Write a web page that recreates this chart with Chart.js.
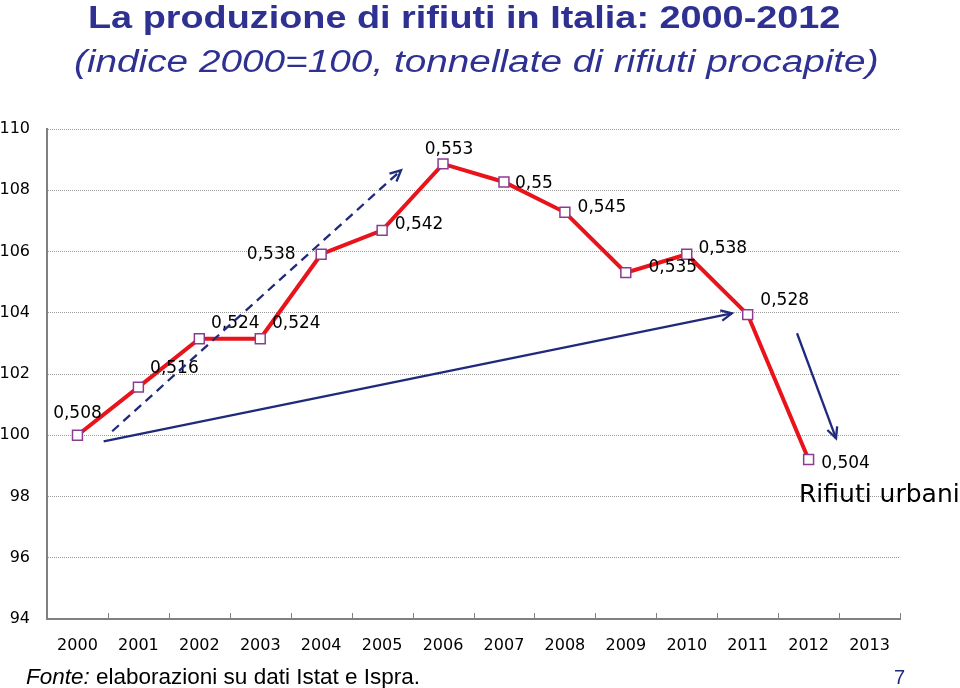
<!DOCTYPE html>
<html>
<head>
<meta charset="utf-8">
<title>La produzione di rifiuti in Italia: 2000-2012</title>
<script src="https://cdn.jsdelivr.net/npm/chart.js@4"></script>
<style>
  body { margin: 0; background: #fff; }
  #wrap { width: 960px; height: 688px; }
</style>
</head>
<body>
<div id="wrap"><canvas id="chart-1" width="960" height="688"></canvas></div>
<script>
// anni sull'asse x
const years = ['2000','2001','2002','2003','2004','2005','2006','2007','2008','2009','2010','2011','2012','2013'];
// tonnellate procapite (etichette)
const tonPro = [0.508, 0.516, 0.524, 0.524, 0.538, 0.542, 0.553, 0.55, 0.545, 0.535, 0.538, 0.528, 0.504];
// indice 2000=100
const indice = [100, 101.57, 103.15, 103.15, 105.91, 106.69, 108.86, 108.27, 107.28, 105.31, 105.91, 103.94, 99.21];
const yTicks = [94, 96, 98, 100, 102, 104, 106, 108, 110];

// frecce (in coordinate dati: indice anno, valore indice)
const arrows = [
  {from: [0.57, 100.13], to: [5.31, 108.65], dash: [9, 6]},
  {from: [0.43, 99.8], to: [10.74, 103.98], dash: []},
  {from: [11.81, 103.33], to: [12.45, 99.9], dash: []}
];

// spostamento etichette rispetto al punto (px)
const labelOffsets = [[0,-22],[36,-19],[36,-15],[36,-15],[-50,0],[37,-6],[6,-14],[30,2],[37,-5],[47,-5],[36,-6],[37,-14],[37,4]];

const navy = '#1F2A7C';
const titleBlue = '#2E3192';

function stretchedText(ctx, txt, x, y, sx) {
  ctx.save();
  ctx.translate(x, y);
  ctx.scale(sx, 1);
  ctx.fillText(txt, 0, 0);
  ctx.restore();
}

const decorPlugin = {
  id: 'decor',
  afterDatasetsDraw(chart) {
    const ctx = chart.ctx;
    const xs = chart.scales.x, ys = chart.scales.y;
    const area = chart.chartArea;
    ctx.save();

    // tacche asse x verso l'alto
    ctx.strokeStyle = '#808080';
    ctx.lineWidth = 1;
    for (let i = 1; i <= years.length; i++) {
      const px = Math.round(xs.getPixelForValue(i - 0.5)) + 0.5;
      ctx.beginPath();
      ctx.moveTo(px, area.bottom);
      ctx.lineTo(px, area.bottom - 6);
      ctx.stroke();
    }

    // etichette valori
    ctx.font = '17px "DejaVu Sans"';
    ctx.fillStyle = '#000';
    ctx.textAlign = 'center';
    ctx.textBaseline = 'middle';
    tonPro.forEach((v, i) => {
      const px = xs.getPixelForValue(i);
      const py = ys.getPixelForValue(indice[i]);
      const txt = String(v).replace('.', ',');
      ctx.fillText(txt, px + labelOffsets[i][0], py + labelOffsets[i][1]);
    });

    // frecce
    ctx.strokeStyle = navy;
    ctx.lineWidth = 2.3;
    arrows.forEach(a => {
      const x1 = xs.getPixelForValue(a.from[0]), y1 = ys.getPixelForValue(a.from[1]);
      const x2 = xs.getPixelForValue(a.to[0]), y2 = ys.getPixelForValue(a.to[1]);
      ctx.setLineDash(a.dash);
      ctx.beginPath();
      ctx.moveTo(x1, y1);
      ctx.lineTo(x2, y2);
      ctx.stroke();
      ctx.setLineDash([]);
      const ang = Math.atan2(y2 - y1, x2 - x1);
      const h = 12;
      ctx.beginPath();
      ctx.moveTo(x2 - h * Math.cos(ang - 0.45), y2 - h * Math.sin(ang - 0.45));
      ctx.lineTo(x2, y2);
      ctx.lineTo(x2 - h * Math.cos(ang + 0.45), y2 - h * Math.sin(ang + 0.45));
      ctx.stroke();
    });

    ctx.font = '25px "DejaVu Sans"';
    ctx.fillStyle = '#000';
    ctx.textAlign = 'left';
    ctx.textBaseline = 'alphabetic';
    ctx.fillText('Rifiuti urbani', 799, 502);

    // titoli
    ctx.fillStyle = titleBlue;
    ctx.font = 'bold 31px "Liberation Sans"';
    stretchedText(ctx, 'La produzione di rifiuti in Italia: 2000-2012', 88, 28, 1.22);
    ctx.font = 'italic 31px "Liberation Sans"';
    stretchedText(ctx, '(indice 2000=100, tonnellate di rifiuti procapite)', 74, 72, 1.25);

    // fonte
    ctx.fillStyle = '#000';
    ctx.font = 'italic 22.5px "Liberation Sans"';
    ctx.fillText('Fonte:', 26, 684);
    const w = ctx.measureText('Fonte: ').width;
    ctx.font = '22.5px "Liberation Sans"';
    ctx.fillText('elaborazioni su dati Istat e Ispra.', 26 + w, 684);
    ctx.fillStyle = navy;
    ctx.font = '20px "Liberation Sans"';
    ctx.fillText('7', 894, 684);
    ctx.restore();
  }
};

const ctx = document.getElementById('chart-1');
new Chart(ctx, {
  type: 'line',
  data: {
    labels: years,
    datasets: [{
      data: indice,
      borderColor: '#E8131B',
      borderWidth: 4,
      tension: 0,
      pointStyle: 'rect',
      pointRadius: 7,
      pointBackgroundColor: '#fff',
      pointBorderColor: '#8E3A91',
      pointBorderWidth: 1.5
    }]
  },
  options: {
    responsive: false,
    animation: false,
    layout: {padding: {top: 129, left: 0, right: 60, bottom: 0}},
    plugins: {legend: {display: false}, tooltip: {enabled: false}},
    scales: {
      x: {
        offset: true,
        grid: {display: false, drawTicks: false},
        border: {color: '#808080', width: 2},
        ticks: {color: '#000', font: {family: 'DejaVu Sans', size: 16}, padding: 17, maxRotation: 0},
        afterFit(scale) { scale.height = 69; }
      },
      y: {
        min: 94,
        max: 110,
        afterBuildTicks(scale) { scale.ticks = yTicks.map(v => ({value: v})); },
        grid: {color: '#999999', lineWidth: 1, drawTicks: false},
        border: {color: '#808080', width: 2, dash: [1, 1]},
        ticks: {color: '#000', font: {family: 'DejaVu Sans', size: 16}, padding: 17},
        afterFit(scale) { scale.width = 47; }
      }
    }
  },
  plugins: [decorPlugin]
});
</script>
</body>
</html>
